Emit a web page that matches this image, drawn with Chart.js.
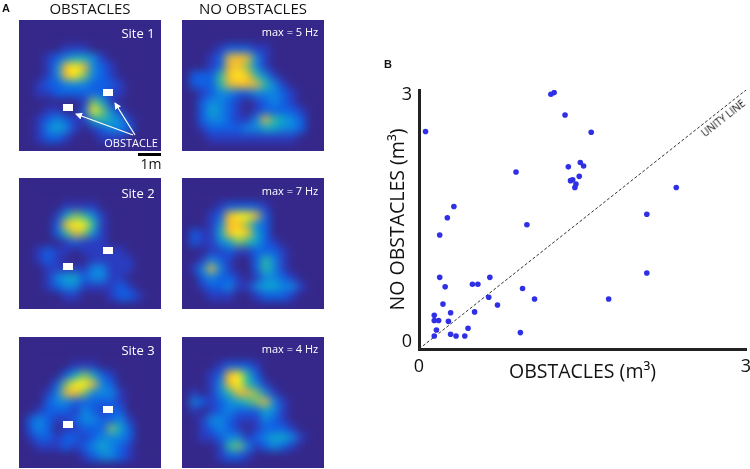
<!DOCTYPE html>
<html>
<head>
<meta charset="utf-8">
<script src="https://cdn.jsdelivr.net/npm/chart.js@4"></script>
<style>
html, body { margin: 0; padding: 0; background: #fff; }
body { position: relative; width: 750px; height: 469px; overflow: hidden; font-family: "Open Sans", sans-serif; color: #111; }
.txt { position: absolute; white-space: nowrap; line-height: 1; transform: translate(-50%, -50%); }
.panel { position: absolute; width: 142px; height: 131px; background: #35288a; overflow: hidden; }
.panel canvas { position: absolute; left: 0; top: 0; filter: blur(4.5px); }
.obst { position: absolute; width: 10px; height: 7px; background: #fff; }
.white { color: #fff; }
#scatter { position: absolute; left: 375px; top: 50px; }
svg { position: absolute; left: 0; top: 0; }
</style>
</head>
<body>
<div class="panel" style="left:19px;top:20px"><canvas id="p1" width="142" height="131"></canvas></div>
<div class="panel" style="left:182px;top:20px"><canvas id="p2" width="142" height="131"></canvas></div>
<div class="panel" style="left:19px;top:178px"><canvas id="p3" width="142" height="131"></canvas></div>
<div class="panel" style="left:182px;top:178px"><canvas id="p4" width="142" height="131"></canvas></div>
<div class="panel" style="left:19px;top:337px"><canvas id="p5" width="142" height="132"></canvas></div>
<div class="panel" style="left:182px;top:337px"><canvas id="p6" width="142" height="132"></canvas></div>

<div class="obst" style="left:103px;top:89px"></div>
<div class="obst" style="left:63px;top:104px"></div>
<div class="obst" style="left:103px;top:247px"></div>
<div class="obst" style="left:63px;top:263px"></div>
<div class="obst" style="left:103px;top:406px"></div>
<div class="obst" style="left:63px;top:421px"></div>

<svg width="750" height="469">
  <defs>
    <marker id="head" markerWidth="7" markerHeight="7" refX="6" refY="3.5" orient="auto" markerUnits="userSpaceOnUse">
      <path d="M0,0 L7,3.5 L0,7 Z" fill="#fff"></path>
    </marker>
  </defs>
  <line x1="135" y1="135" x2="115" y2="103" stroke="#fff" stroke-width="1.2" marker-end="url(#head)"></line>
  <line x1="133" y1="135" x2="76" y2="114" stroke="#fff" stroke-width="1.2" marker-end="url(#head)"></line>
  <rect x="138" y="153" width="23" height="3" fill="#000"></rect>
</svg>

<div class="txt" style="left:6px;top:8px;font:bold 11px 'Liberation Sans'">A</div>
<div class="txt" style="left:388px;top:64px;font:bold 11px 'Liberation Sans'">B</div>
<div class="txt" style="left:90px;top:8px;font-size:15px">OBSTACLES</div>
<div class="txt" style="left:253px;top:8px;font-size:15px">NO OBSTACLES</div>
<div class="txt white" style="left:138px;top:33px;font-size:13px">Site 1</div>
<div class="txt white" style="left:138px;top:193px;font-size:13px">Site 2</div>
<div class="txt white" style="left:138px;top:350px;font-size:13px">Site 3</div>
<div class="txt white" style="left:290px;top:31px;font-size:11px">max = 5 Hz</div>
<div class="txt white" style="left:290px;top:190px;font-size:11px">max = 7 Hz</div>
<div class="txt white" style="left:290px;top:348px;font-size:11px">max = 4 Hz</div>
<div class="txt white" style="left:131px;top:142px;font-size:11px">OBSTACLE</div>
<div class="txt" style="left:151px;top:164px;font-size:14px">1m</div>

<canvas id="scatter" width="375" height="350"></canvas>
<div class="txt" style="left:723px;top:118px;font-size:10px;transform:translate(-50%,-50%) rotate(-38.4deg)">UNITY LINE</div>

<script>
// firing maps, levels 0-9
const site1Obstacles = [
    [0,0,0,0,0,0,0,0,0,0,0,0,0,0],
    [0,0,0,0,0,0,0,0,0,0,0,0,0,0],
    [0,0,0,0,1,1,1,0,0,0,0,0,0,0],
    [0,0,1,2,3,4,4,3,1,0,0,0,0,0],
    [0,0,1,3,8,9,7,3,2,1,0,0,0,0],
    [0,0,1,3,8,9,6,3,2,1,0,0,0,0],
    [0,1,2,2,3,3,3,2,2,2,1,0,0,0],
    [0,1,1,2,2,2,2,2,2,1,1,0,0,0],
    [0,0,0,0,0,0,1,6,4,1,0,0,0,0],
    [0,0,1,1,0,0,2,9,6,3,1,0,0,0],
    [0,1,2,3,2,1,1,4,5,4,3,1,0,0],
    [0,1,3,4,3,1,0,1,2,3,3,2,0,0],
    [0,1,2,2,1,0,0,0,1,1,1,0,0,0]
];
const site1Open = [
    [0,0,0,0,0,0,0,0,0,0,0,0,0,0],
    [0,0,0,0,0,0,0,0,0,0,0,0,0,0],
    [0,0,0,1,2,2,2,1,1,0,0,0,0,0],
    [0,0,1,2,7,8,7,3,1,0,0,0,0,0],
    [0,0,1,2,7,8,6,3,1,0,0,0,0,0],
    [2,2,2,5,8,9,8,5,3,1,0,0,0,0],
    [2,2,2,5,7,8,8,7,5,3,1,0,0,0],
    [0,1,2,3,3,2,2,3,3,3,2,1,0,0],
    [0,2,3,3,2,1,0,1,2,3,2,1,0,0],
    [0,2,4,3,2,1,0,1,2,2,2,2,1,0],
    [0,2,3,3,2,1,1,3,7,5,4,3,2,0],
    [0,1,2,2,2,2,3,3,4,4,3,3,2,0],
    [0,0,1,1,1,1,1,1,1,1,1,1,0,0]
];
const site2Obstacles = [
    [0,0,0,0,0,0,0,0,0,0,0,0,0,0],
    [0,0,0,0,0,0,0,0,0,0,0,0,0,0],
    [0,0,0,0,1,1,1,1,0,0,0,0,0,0],
    [0,0,0,1,4,6,5,3,1,0,0,0,0,0],
    [0,0,0,2,8,9,9,5,1,0,0,0,0,0],
    [0,0,0,2,5,7,6,3,1,0,0,0,0,0],
    [0,0,0,0,1,2,1,1,1,0,0,0,0,0],
    [0,1,2,1,1,0,1,1,1,1,1,0,0,0],
    [0,1,2,1,0,0,0,1,1,1,1,1,0,0],
    [0,0,1,1,1,1,1,3,3,1,1,1,0,0],
    [0,0,1,3,4,4,2,3,3,1,1,0,0,0],
    [0,0,1,2,3,3,1,1,1,1,2,1,0,0],
    [0,0,0,0,1,1,0,0,0,1,2,2,1,0]
];
const site2Open = [
    [0,0,0,0,0,0,0,0,0,0,0,0,0,0],
    [0,0,0,0,0,0,0,0,0,0,0,0,0,0],
    [0,0,0,1,2,2,2,2,1,0,0,0,0,0],
    [0,0,1,2,8,9,9,7,2,0,0,0,0,0],
    [0,0,1,3,8,8,6,3,2,0,0,0,0,0],
    [2,1,1,4,8,9,8,4,2,0,0,0,0,0],
    [2,1,1,3,4,6,5,4,2,1,0,0,0,0],
    [0,0,1,1,2,1,1,2,2,2,1,0,0,0],
    [0,1,3,2,1,0,0,2,5,3,1,0,0,0],
    [1,3,7,3,1,0,0,2,5,3,1,0,0,0],
    [0,2,3,2,2,1,0,1,3,3,2,1,0,0],
    [0,1,2,2,3,1,1,3,4,4,3,3,1,0],
    [0,0,1,1,1,0,0,1,2,2,2,1,0,0]
];
const site3Obstacles = [
    [0,0,0,0,0,0,0,0,0,0,0,0,0,0],
    [0,0,0,0,0,0,0,0,0,0,0,0,0,0],
    [0,0,0,0,0,1,1,1,0,0,0,0,0,0],
    [0,0,0,0,2,4,6,4,2,1,0,0,0,0],
    [0,0,0,2,6,9,9,7,3,2,0,0,0,0],
    [0,0,1,3,7,8,6,3,3,3,1,0,0,0],
    [0,0,2,3,3,2,2,2,2,2,1,0,0,0],
    [0,1,2,2,2,1,3,2,1,2,2,0,0,0],
    [2,3,2,1,1,2,3,3,2,2,3,1,0,0],
    [2,3,2,0,1,1,2,2,2,6,4,2,0,0],
    [1,2,2,1,2,2,1,2,3,3,3,2,0,0],
    [0,1,1,1,2,1,2,3,4,3,2,1,0,0],
    [0,0,0,0,0,0,1,2,3,3,2,1,0,0]
];
const site3Open = [
    [0,0,0,0,0,0,0,0,0,0,0,0,0,0],
    [0,0,0,0,0,0,0,0,0,0,0,0,0,0],
    [0,0,0,1,2,2,2,1,0,0,0,0,0,0],
    [0,0,1,2,8,9,5,2,0,0,0,0,0,0],
    [0,0,1,3,8,9,5,3,1,0,0,0,0,0],
    [1,0,1,3,5,7,7,6,3,1,0,0,0,0],
    [3,2,1,2,3,4,5,6,7,3,1,0,0,0],
    [1,0,1,2,3,2,2,2,4,3,1,0,0,0],
    [0,1,3,3,2,1,1,1,3,2,1,0,0,0],
    [0,1,2,3,2,1,0,1,2,2,2,1,0,0],
    [0,1,1,2,3,3,1,2,3,4,4,3,1,0],
    [0,0,0,1,5,6,3,1,2,3,2,1,0,0],
    [0,0,0,1,2,2,1,0,0,0,0,0,0,0]
];

// field volumes, panel B
const obstaclesVol = [0.06,1.21,1.24,1.34,1.58,1.48,1.51,1.37,0.89,1.47,1.39,1.41,1.44,1.43,2.36,0.32,0.26,2.09,0.99,0.19,
    0.19,0.65,2.09,0.24,0.49,0.54,0.95,0.64,1.06,1.74,0.22,0.72,0.29,0.51,0.14,0.14,0.18,0.27,0.45,0.16,0.93,0.14,0.29,0.34,0.42];
const noObstaclesVol = [2.52,2.95,2.97,2.71,2.51,2.16,2.12,2.11,2.05,2.00,1.95,1.96,1.91,1.87,1.87,1.65,1.52,1.56,1.44,1.32,
    0.83,0.83,0.88,0.72,0.75,0.75,0.70,0.60,0.58,0.58,0.52,0.51,0.42,0.43,0.39,0.33,0.33,0.32,0.24,0.22,0.19,0.15,0.17,0.15,0.15];
const unityLine = [0, 3];
const xTickValues = [0, 3];
const yTickLabels = ['0', '3'];

const levelColors = ['#35288a', '#2a3cc0', '#1060e4', '#0f86e0', '#0fa6cc', '#2cb8a4', '#80c068', '#e4b83c', '#fcc028', '#fff018'];

function heatChart(id, rows) {
    const points = [];
    const colors = [];
    rows.forEach(function (row, r) {
        row.forEach(function (v, c) {
            points.push({ x: c, y: r });
            colors.push(levelColors[v]);
        });
    });
    new Chart(document.getElementById(id), {
        type: 'scatter',
        data: {
            datasets: [{
                data: points,
                pointStyle: 'rect',
                pointRadius: 8,
                pointBorderWidth: 0,
                backgroundColor: colors
            }]
        },
        options: {
            responsive: false,
            animation: false,
            layout: { padding: 0 },
            plugins: { legend: { display: false }, tooltip: { enabled: false } },
            scales: {
                x: { display: false, min: -0.5, max: 13.5 },
                y: { display: false, min: -0.5, max: 12.5, reverse: true }
            }
        }
    });
}

heatChart('p1', site1Obstacles);
heatChart('p2', site1Open);
heatChart('p3', site2Obstacles);
heatChart('p4', site2Open);
heatChart('p5', site3Obstacles);
heatChart('p6', site3Open);

const axisFont = { family: 'Open Sans', size: 18 };
const titleFont = { family: 'Open Sans', size: 19.5 };

new Chart(document.getElementById('scatter'), {
    type: 'scatter',
    data: {
        datasets: [{
            data: obstaclesVol.map(function (v, i) { return { x: v, y: noObstaclesVol[i] }; }),
            backgroundColor: '#2f2fe6',
            pointRadius: 2.8,
            pointBorderWidth: 0,
            order: 1
        }, {
            data: unityLine.map(function (v) { return { x: v, y: v }; }),
            showLine: true,
            pointRadius: 0,
            borderColor: '#333',
            borderWidth: 1,
            borderDash: [3, 2],
            order: 2
        }]
    },
    options: {
        responsive: false,
        animation: false,
        layout: { padding: { top: 40, right: 4, left: 0, bottom: 0 } },
        plugins: { legend: { display: false }, tooltip: { enabled: false } },
        scales: {
            x: {
                min: 0,
                max: 3,
                afterBuildTicks: function (scale) { scale.ticks = xTickValues.map(function (v) { return { value: v }; }); },
                afterFit: function (scale) { scale.height = 51; scale.paddingLeft = 0; scale.paddingRight = 0; },
                grid: { display: false, drawTicks: false },
                border: { display: true, color: '#222', width: 3 },
                ticks: { padding: 7, font: axisFont, color: '#111', maxRotation: 0 },
                title: { display: true, text: 'OBSTACLES (m³)', font: titleFont, color: '#111', padding: { top: 0, bottom: 16 } }
            },
            y: {
                min: 0,
                max: 3,
                // the two labels sit just inside the ends of the axis
                afterBuildTicks: function (scale) { scale.ticks = [{ value: 0.085 }, { value: 2.94 }]; },
                afterFit: function (scale) { scale.width = 44; scale.paddingTop = 0; scale.paddingBottom = 0; },
                grid: { display: false, drawTicks: false },
                border: { display: true, color: '#222', width: 3 },
                ticks: {
                    padding: 7,
                    font: axisFont,
                    color: '#111',
                    callback: function (v) { return v < 1 ? yTickLabels[0] : yTickLabels[1]; }
                },
                title: { display: true, text: 'NO OBSTACLES (m³)', font: titleFont, color: '#111', padding: { top: 12, bottom: 0 } }
            }
        }
    }
});
</script>
</body>
</html>
